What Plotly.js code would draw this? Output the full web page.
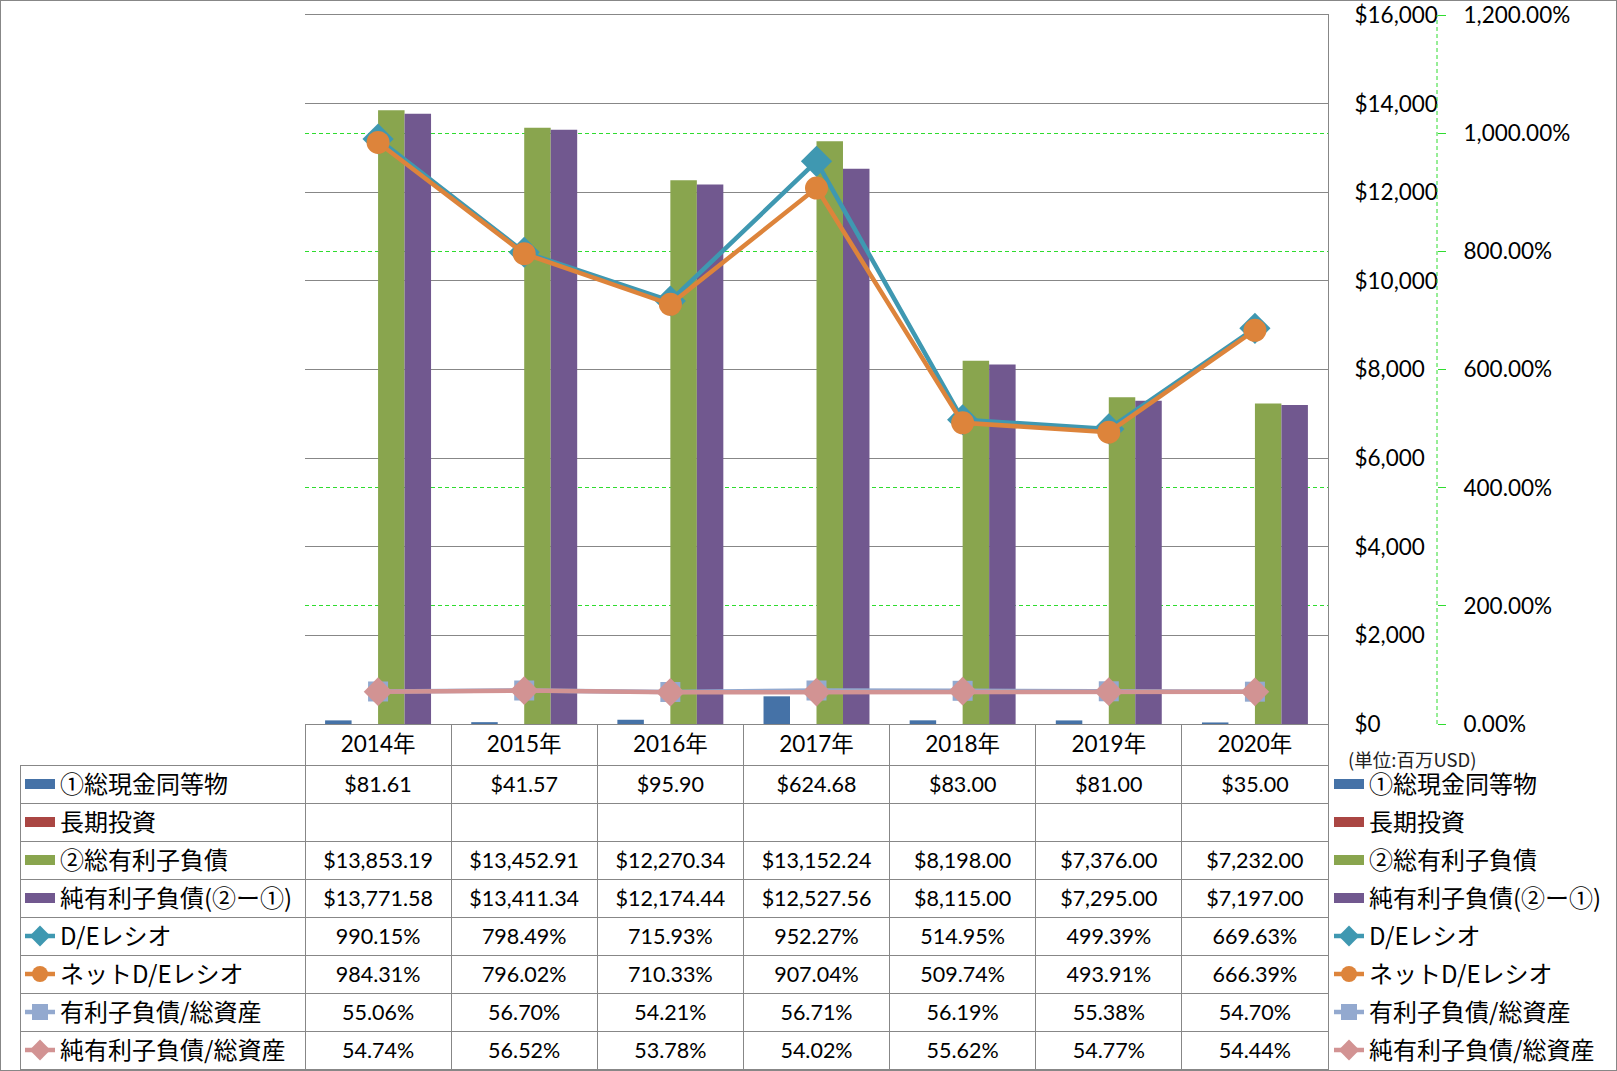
<!DOCTYPE html>
<html><head><meta charset="utf-8">
<script src="https://cdn.plot.ly/plotly-3.0.1.min.js"></script>
<style>
html,body{margin:0;padding:0;background:#fff;overflow:hidden}
.table .cell-text{transform:translateY(3px)}
</style>
</head><body>
<div id="chart" style="width:1617px;height:1071px"></div>
<script>
// ---- data ----
const years = ['2014年','2015年','2016年','2017年','2018年','2019年','2020年'];
const cashEq = [81.61, 41.57, 95.90, 624.68, 83.00, 81.00, 35.00];
const longTermInv = [null, null, null, null, null, null, null];
const totalDebt = [13853.19, 13452.91, 12270.34, 13152.24, 8198.00, 7376.00, 7232.00];
const netDebt = [13771.58, 13411.34, 12174.44, 12527.56, 8115.00, 7295.00, 7197.00];
const deRatio = [990.15, 798.49, 715.93, 952.27, 514.95, 499.39, 669.63];
const netDeRatio = [984.31, 796.02, 710.33, 907.04, 509.74, 493.91, 666.39];
const debtToAssets = [55.06, 56.70, 54.21, 56.71, 56.19, 55.38, 54.70];
const netDebtToAssets = [54.74, 56.52, 53.78, 54.02, 55.62, 54.77, 54.44];
const seriesNames = ['①総現金同等物','長期投資','②総有利子負債','純有利子負債(②ー①)','D/Eレシオ','ネットD/Eレシオ','有利子負債/総資産','純有利子負債/総資産'];
const unitNote = '(単位:百万USD)';

// ---- styles ----
const W = 1617, H = 1071;
const GRAY = '#878787';
const GREEN = '#2fdc2f';
const COL = {
  blue:'#4572A7', red:'#AA4643', green:'#89A54E', purple:'#71588F',
  teal:'#3F98B1', orange:'#DD843B', lblue:'#93A9CF', pink:'#D29393'
};
const FONT_NUM = 'Lato, "Noto Sans CJK JP", sans-serif';
const FONT_JP = '"Noto Sans CJK JP", sans-serif';

const barSeries = [
  {name:seriesNames[0], y:cashEq, color:COL.blue, og:'b1'},
  {name:seriesNames[1], y:longTermInv, color:COL.red, og:'b2'},
  {name:seriesNames[2], y:totalDebt, color:COL.green, og:'b3'},
  {name:seriesNames[3], y:netDebt, color:COL.purple, og:'b4'}
];
const lineSeries = [
  {name:seriesNames[4], y:deRatio, color:COL.teal, symbol:'diamond', size:24, lw:4.5},
  {name:seriesNames[5], y:netDeRatio, color:COL.orange, symbol:'circle', size:23, lw:4.5},
  {name:seriesNames[6], y:debtToAssets, color:COL.lblue, symbol:'square', size:20, lw:4.5},
  {name:seriesNames[7], y:netDebtToAssets, color:COL.pink, symbol:'diamond', size:22, lw:4.5}
];

const traces = [];
// data table below the chart
const fmtMoney = v => v == null ? '' : '$' + v.toLocaleString('en-US', {minimumFractionDigits:2, maximumFractionDigits:2});
const fmtPct = v => v == null ? '' : v.toFixed(2) + '%';
const tableRows = [
  cashEq.map(fmtMoney), longTermInv.map(fmtMoney), totalDebt.map(fmtMoney), netDebt.map(fmtMoney),
  deRatio.map(fmtPct), netDeRatio.map(fmtPct), debtToAssets.map(fmtPct), netDebtToAssets.map(fmtPct)
];
const cellCols = [seriesNames.map(() => '')].concat(years.map((_, j) => tableRows.map(r => r[j])));
const colW = [285].concat(years.map(() => 1023 / 7));
traces.push({
  type:'table',
  domain:{x:[20 / W, 1328 / W], y:[0, 1 - 724 / H]},
  columnwidth: colW,
  header:{
    values:[''].concat(years),
    height:41,
    align:'center',
    fill:{color:['rgba(0,0,0,0)'].concat(years.map(() => '#ffffff'))},
    line:{color:['rgba(0,0,0,0)'].concat(years.map(() => GRAY)), width:1},
    font:{family:FONT_NUM, size:22.5, color:'#000'}
  },
  cells:{
    values: cellCols,
    height:38,
    align:'center',
    fill:{color:'#ffffff'},
    line:{color:GRAY, width:1},
    font:{family:FONT_NUM, size:21.5, color:'#000'}
  }
});

// bars (legend keys drawn by the key traces below)
barSeries.forEach((s) => {
  traces.push({
    type:'bar', name:s.name, x:years, y:s.y, offsetgroup:s.og,
    marker:{color:s.color}, showlegend:false, hoverinfo:'skip'
  });
});

function addLegendKeys(legendId, prefix) {
  barSeries.forEach((s, i) => {
    traces.push({
      type:'scatter', mode:'lines', name:s.name, x:[null], y:[null],
      line:{color:s.color, width:11}, legend:legendId, legendgroup:prefix + i, hoverinfo:'skip'
    });
  });
}
addLegendKeys('legend', 'R');

lineSeries.forEach((s, i) => {
  traces.push({
    type:'scatter', mode:'lines+markers', name:s.name, x:years, y:s.y, yaxis:'y2',
    line:{color:s.color, width:s.lw}, marker:{symbol:s.symbol, size:s.size, color:s.color},
    legend:'legend', legendgroup:'R' + (i + 4), hoverinfo:'skip', cliponaxis:false
  });
});

// keys for the table's label column
addLegendKeys('legend2', 'L');
lineSeries.forEach((s, i) => {
  traces.push({
    type:'scatter', mode:'lines+markers', name:s.name, x:[null], y:[null], yaxis:'y2',
    line:{color:s.color, width:s.lw}, marker:{symbol:s.symbol, size:s.size, color:s.color},
    legend:'legend2', legendgroup:'L' + (i + 4), hoverinfo:'skip'
  });
});

const legFontSize = 24;
const itemH = legFontSize * 1.3 + 3;
const rowH = 38;
const legTop = 784 - (5 + itemH / 2);
const legendCommon = {
  orientation:'v', traceorder:'grouped', tracegroupgap: rowH - itemH,
  bgcolor:'rgba(0,0,0,0)', borderwidth:0, itemwidth:30,
  font:{family:FONT_JP, size:legFontSize, color:'#000'},
  yanchor:'top', y: 1 - legTop / H, xanchor:'left'
};

const layout = {
  width:W, height:H,
  margin:{l:0, r:0, t:0, b:0, autoexpand:false},
  paper_bgcolor:'#ffffff', plot_bgcolor:'rgba(0,0,0,0)',
  barmode:'group', bargap:0.275, bargroupgap:0,
  hovermode:false, showlegend:true,
  font:{family:FONT_NUM, size:22, color:'#000'},
  xaxis:{
    domain:[305 / W, 1328 / W], type:'category', range:[-0.5, 6.5],
    showticklabels:false, ticks:'', showline:true, mirror:true, linecolor:GRAY, linewidth:1,
    showgrid:false, zeroline:false, fixedrange:true
  },
  yaxis:{
    domain:[1 - 724 / H, 1 - 15 / H], side:'right', range:[0, 16000], dtick:2000, tick0:0,
    tickprefix:'$', tickformat:',d', showline:true, linecolor:GRAY, linewidth:1,
    showgrid:true, gridcolor:GRAY, gridwidth:1, zeroline:false, ticks:'',
    ticklabelstandoff:21, tickfont:{family:FONT_NUM, size:22.5, color:'#000'}, fixedrange:true
  },
  yaxis2:{
    overlaying:'y', side:'right', anchor:'free', position:1437 / W,
    range:[0, 1200], dtick:200, tick0:0, tickformat:',.2f', ticksuffix:'%',
    showgrid:false, zeroline:false,
    showline:false, ticks:'outside', ticklen:8, tickcolor:GREEN, tickwidth:1,
    ticklabelstandoff:13, tickfont:{family:FONT_NUM, size:22.5, color:'#000'}, fixedrange:true
  },
  // secondary-axis gridlines that do not coincide with the primary gridlines
  yaxis3:{
    overlaying:'y', side:'right', anchor:'x', range:[0, 1200],
    tickvals:[200, 400, 800, 1000], showticklabels:false, ticks:'', showline:false,
    showgrid:true, gridcolor:GREEN, griddash:'4px,3px', gridwidth:1, zeroline:false, fixedrange:true
  },
  legend:Object.assign({}, legendCommon, {x:1329 / W}),
  legend2:Object.assign({}, legendCommon, {x:20 / W}),
  shapes:[
    {type:'line', xref:'paper', yref:'y2 domain', x0:1437 / W, x1:1437 / W, y0:0, y1:1,
     line:{color:GREEN, width:1, dash:'4px,3px'}},
    {type:'rect', xref:'paper', yref:'paper', x0:0, x1:1, y0:0, y1:1,
     line:{color:GRAY, width:2}, fillcolor:'rgba(0,0,0,0)'}
  ],
  annotations:[
    {text:unitNote, xref:'paper', yref:'paper', x:1347 / W, y:1 - 759 / H,
     xanchor:'left', yanchor:'middle', showarrow:false, borderpad:0,
     font:{family:FONT_JP, size:18.5, color:'#222'}}
  ]
};

// a trace on yaxis3 so its gridlines are drawn
traces.push({type:'scatter', mode:'markers', x:[null], y:[null], yaxis:'y3', showlegend:false, hoverinfo:'skip'});

Plotly.newPlot('chart', traces, layout, {displayModeBar:false, staticPlot:true});
</script>
</body></html>
